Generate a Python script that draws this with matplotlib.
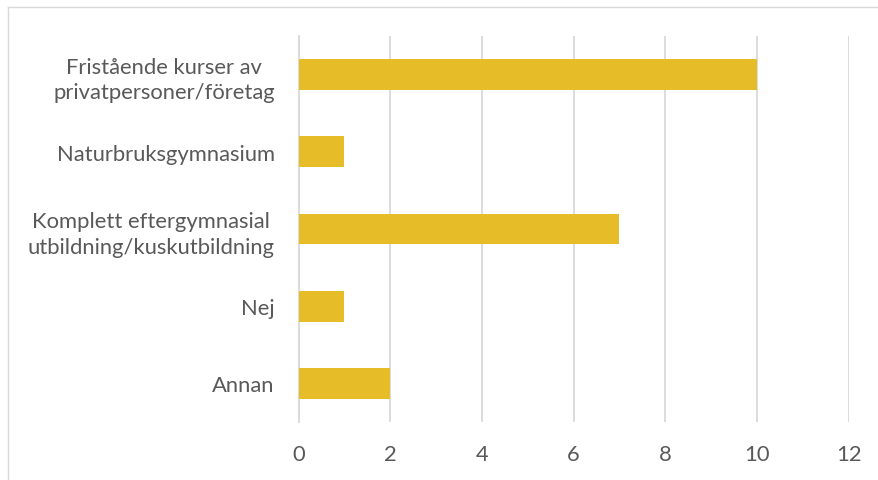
import matplotlib.pyplot as plt
from matplotlib.lines import Line2D

categories = [
    "Fristående kurser av\nprivatpersoner/företag",
    "Naturbruksgymnasium",
    "Komplett eftergymnasial\nutbildning/kuskutbildning",
    "Nej",
    "Annan",
]
values = [10, 1, 7, 1, 2]
xticks = [0, 2, 4, 6, 8, 10, 12]

bar_color = "#E6BC29"
text_color = "#595959"
grid_color = "#D9D9D9"

plt.rcParams["font.family"] = ["Lato", "DejaVu Sans"]

fig = plt.figure(figsize=(8.79, 4.81), dpi=100)
ax = fig.add_axes([0.3396, 0.1206, 0.9655 - 0.3396, 0.923 - 0.1206])

ypos = list(range(len(categories)))
ax.barh(ypos, values, height=0.4, color=bar_color, zorder=3)
ax.set_ylim(len(categories) - 0.5, -0.5)
ax.set_xlim(0, 12)
ax.set_xticks(xticks)
ax.set_xticklabels([str(t) for t in xticks])
ax.set_yticks(ypos)
ax.set_yticklabels(categories, multialignment="center", linespacing=1.35)

ax.grid(axis="x", color=grid_color, linewidth=1.3, zorder=0)
for s in ["top", "right", "bottom"]:
    ax.spines[s].set_visible(False)
ax.spines["left"].set_color(grid_color)
ax.spines["left"].set_linewidth(1.3)
ax.tick_params(axis="both", length=0, labelcolor=text_color, labelsize=15.8)
ax.tick_params(axis="x", pad=16)
ax.tick_params(axis="y", pad=17)

# chart area border (cropped on right and bottom)
fig.add_artist(Line2D([8 / 879, 8 / 879], [0, 1 - 8 / 481], color="#D9D9D9", linewidth=1))
fig.add_artist(Line2D([8 / 879, 1], [1 - 8 / 481, 1 - 8 / 481], color="#D9D9D9", linewidth=1))

fig.savefig("out.png", dpi=100)
